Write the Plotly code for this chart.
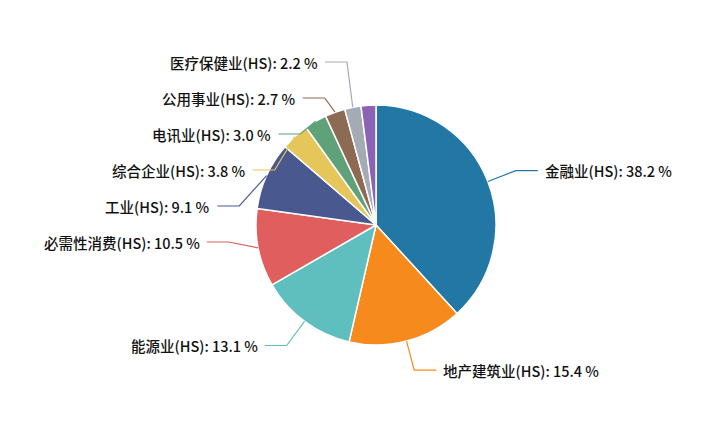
import math
import plotly.graph_objects as go

categories = ["金融业(HS)", "地产建筑业(HS)", "能源业(HS)", "必需性消费(HS)", "工业(HS)",
              "综合企业(HS)", "电讯业(HS)", "公用事业(HS)", "医疗保健业(HS)", "其他"]
values = [38.2, 15.4, 13.1, 10.5, 9.1, 3.8, 3.0, 2.7, 2.2, 2.0]
show_label = [True]*9 + [False]
colors = ["#2277a5", "#f68a1c", "#5fbfbf", "#e05e5e", "#4a5890", "#e5c65a",
          "#5fa279", "#8d6a52", "#a4abb5", "#8c62b4"]

W, H = 716, 424
OFF = 8  # page body margin
cx, cy, r = 376, 225, 120

px = lambda x: (x - OFF) / W
py = lambda y: 1 - (y - OFF) / H

fig = go.Figure(go.Pie(
    labels=categories, values=values, sort=False, direction="clockwise", rotation=0,
    marker=dict(colors=colors, line=dict(color="white", width=1.5)),
    textinfo="none", hoverinfo="label+percent", showlegend=False,
    domain=dict(x=[px(cx - r), px(cx + r)], y=[py(cy + r), py(cy - r)]),
))

total = sum(values)
items = []
cum = 0
for i, v in enumerate(values):
    mid = (cum + v / 2) / total * 2 * math.pi
    cum += v
    if not show_label[i]:
        continue
    s, c = math.sin(mid), math.cos(mid)
    edge = (cx + r * s, cy - r * c)
    el = (cx + 1.25 * r * s, cy - 1.25 * r * c)
    items.append(dict(i=i, edge=edge, ex=el[0], ny=el[1], right=s >= 0))

def spread(group, gap=36, top=62):
    group.sort(key=lambda d: d["ny"])
    ys = [d["ny"] for d in group]
    for k in range(1, len(ys)):
        if ys[k] < ys[k-1] + gap:
            ys[k] = ys[k-1] + gap
    k = 0
    while k + 1 < len(ys) and ys[k+1] - ys[k] <= gap + 0.01:
        k += 1
    n = k + 1
    shift = (sum(d["ny"] for d in group[:n]) - sum(ys[:n])) / n
    shift = max(shift, top - ys[0])
    for j in range(len(group)):
        group[j]["y"] = ys[j] + (shift if j < n else 0)
    for j in range(1, len(group)):
        if group[j]["y"] < group[j-1]["y"] + gap:
            group[j]["y"] = group[j-1]["y"] + gap

spread([d for d in items if d["right"]])
spread([d for d in items if not d["right"]])

for d in items:
    i = d["i"]
    hx = d["ex"] + (22 if d["right"] else -22)
    fig.add_shape(type="path", xref="paper", yref="paper",
                  path=f"M {px(d['edge'][0])} {py(d['edge'][1])} L {px(d['ex'])} {py(d['y'])} L {px(hx)} {py(d['y'])}",
                  line=dict(color=colors[i], width=1.2))
    fig.add_annotation(x=px(hx + (5 if d["right"] else -5)), y=py(d["y"]), xref="paper", yref="paper",
                       text=f"{categories[i]}: {values[i]:.1f} %", showarrow=False,
                       xanchor="left" if d["right"] else "right", yanchor="middle",
                       font=dict(size=14.5, color="#111", weight=500))

fig.update_layout(width=W, height=H, margin=dict(l=0, r=0, t=0, b=0),
                  paper_bgcolor="white", plot_bgcolor="white",
                  font=dict(family="Noto Sans CJK SC, Noto Sans, sans-serif"))
fig.write_html("out.html")
